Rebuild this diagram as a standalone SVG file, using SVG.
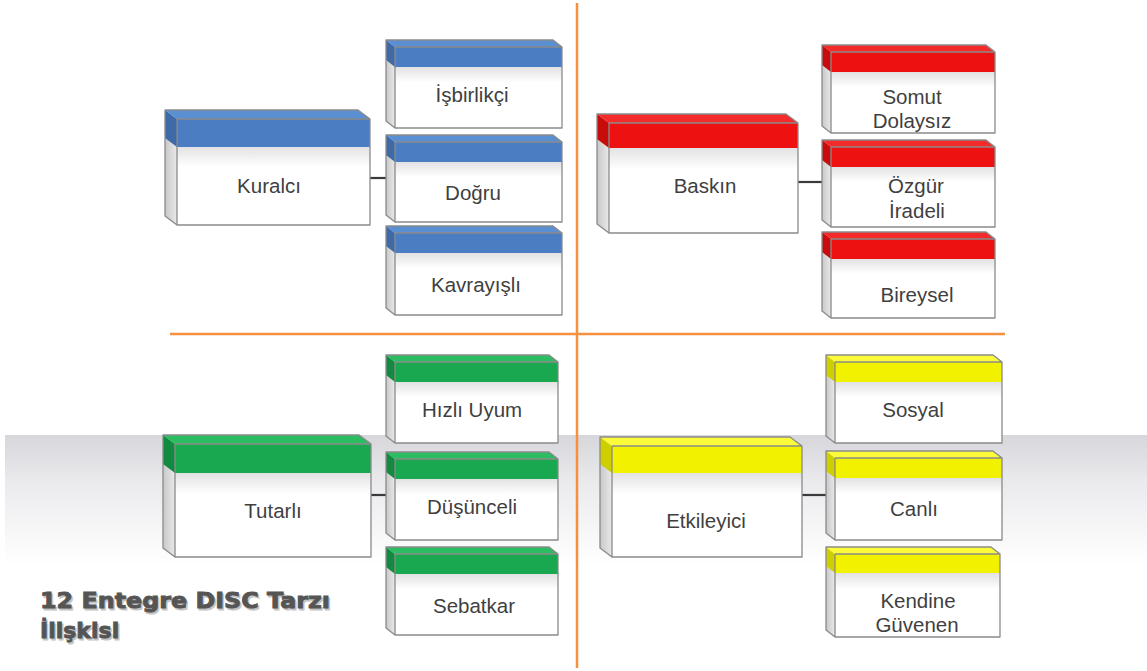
<svg xmlns="http://www.w3.org/2000/svg" width="1147" height="671" viewBox="0 0 1147 671">
<defs>
<linearGradient id="bg" x1="0" y1="0" x2="0" y2="1">
<stop offset="0" stop-color="#d6d6db"/>
<stop offset="0.35" stop-color="#eaeaed"/>
<stop offset="1" stop-color="#ffffff"/>
</linearGradient>
<linearGradient id="side" x1="0" y1="0" x2="1" y2="0">
<stop offset="0" stop-color="#c8c8c8"/>
<stop offset="1" stop-color="#e9e9e9"/>
</linearGradient>
<linearGradient id="front" x1="0" y1="0" x2="0" y2="1">
<stop offset="0" stop-color="#e2e2e4"/>
<stop offset="0.25" stop-color="#ffffff"/>
<stop offset="1" stop-color="#ffffff"/>
</linearGradient>
</defs>
<style>
.side{fill:url(#side)}
.front{fill:url(#front)}
.ol{fill:none;stroke:#8a8a8a;stroke-width:1.3;stroke-linejoin:round}
.b1{fill:#5a8fd2}.b2{fill:#4a7dc2}.b3{fill:#3f6aa8}
.r1{fill:#f52a2a}.r2{fill:#ee1111}.r3{fill:#c80c0c}
.g1{fill:#2cbc62}.g2{fill:#19a84f}.g3{fill:#128a40}
.y1{fill:#fbfb3a}.y2{fill:#f2f200}.y3{fill:#cfcf00}
.t{font-family:"Liberation Sans",Arial,sans-serif;font-size:20.5px;fill:#3f3f3f;text-anchor:middle}
.con{stroke:#3a3a3a;stroke-width:2.2;fill:none}
.axis{stroke:#f5913e;stroke-width:2.5;fill:none}
.title{font-family:"DejaVu Sans",Verdana,sans-serif;font-weight:bold;font-size:22px;fill:#555555;stroke:#555555;stroke-width:0.9}
.tsh{font-family:"DejaVu Sans",Verdana,sans-serif;font-weight:bold;font-size:22px;fill:#c4c4c4;stroke:#c4c4c4;stroke-width:0.9}
</style>
<rect x="0" y="0" width="1147" height="671" fill="#ffffff"/>
<rect x="5" y="435" width="1142" height="130" fill="url(#bg)"/>
<g id="axes">
<line class="axis" x1="577" y1="3" x2="577" y2="668"/>
<line class="axis" x1="170" y1="334" x2="1005" y2="334"/>
</g>
<g id="connectors">
<line class="con" x1="370" y1="178" x2="386" y2="178"/>
<line class="con" x1="798" y1="182" x2="822" y2="182"/>
<line class="con" x1="371" y1="495" x2="386" y2="495"/>
<line class="con" x1="802" y1="495" x2="826" y2="495"/>
</g>

<!-- Blue -->
<g id="kuralci">
<path class="side" d="M165,110 L177,119 L177,225 L165,216 Z"/>
<path class="b3" d="M165,110 L177,119 L177,147 L165,138 Z"/>
<path class="b1" d="M165,110 L358,110 L370,119 L177,119 Z"/>
<rect class="b2" x="177" y="119" width="193" height="28"/>
<rect class="front" x="177" y="147" width="193" height="78"/>
<path class="ol" d="M165,110 L358,110 L370,119 L370,225 L177,225 L165,216 Z M177,119 L370,119 M177,119 L177,225"/>
<text class="t" x="269" y="193">Kuralcı</text>
</g>
<g id="isbirlikci">
<path class="side" d="M386,40 L395,47 L395,128 L386,121 Z"/>
<path class="b3" d="M386,40 L395,47 L395,67 L386,60 Z"/>
<path class="b1" d="M386,40 L553,40 L562,47 L395,47 Z"/>
<rect class="b2" x="395" y="47" width="167" height="20"/>
<rect class="front" x="395" y="67" width="167" height="61"/>
<path class="ol" d="M386,40 L553,40 L562,47 L562,128 L395,128 L386,121 Z M395,47 L562,47 M395,47 L395,128"/>
<text class="t" x="472" y="102">İşbirlikçi</text>
</g>
<g id="dogru">
<path class="side" d="M386,135 L395,142 L395,222 L386,215 Z"/>
<path class="b3" d="M386,135 L395,142 L395,162 L386,155 Z"/>
<path class="b1" d="M386,135 L553,135 L562,142 L395,142 Z"/>
<rect class="b2" x="395" y="142" width="167" height="20"/>
<rect class="front" x="395" y="162" width="167" height="60"/>
<path class="ol" d="M386,135 L553,135 L562,142 L562,222 L395,222 L386,215 Z M395,142 L562,142 M395,142 L395,222"/>
<text class="t" x="473" y="200">Doğru</text>
</g>
<g id="kavrayisli">
<path class="side" d="M386,226 L395,233 L395,315 L386,308 Z"/>
<path class="b3" d="M386,226 L395,233 L395,253 L386,246 Z"/>
<path class="b1" d="M386,226 L553,226 L562,233 L395,233 Z"/>
<rect class="b2" x="395" y="233" width="167" height="20"/>
<rect class="front" x="395" y="253" width="167" height="62"/>
<path class="ol" d="M386,226 L553,226 L562,233 L562,315 L395,315 L386,308 Z M395,233 L562,233 M395,233 L395,315"/>
<text class="t" x="476" y="292">Kavrayışlı</text>
</g>

<!-- Red -->
<g id="baskin">
<path class="side" d="M597,114 L609,123 L609,233 L597,224 Z"/>
<path class="r3" d="M597,114 L609,123 L609,148 L597,139 Z"/>
<path class="r1" d="M597,114 L786,114 L798,123 L609,123 Z"/>
<rect class="r2" x="609" y="123" width="189" height="25"/>
<rect class="front" x="609" y="148" width="189" height="85"/>
<path class="ol" d="M597,114 L786,114 L798,123 L798,233 L609,233 L597,224 Z M609,123 L798,123 M609,123 L609,233"/>
<text class="t" x="705" y="193">Baskın</text>
</g>
<g id="somut">
<path class="side" d="M822,45 L831,52 L831,133 L822,126 Z"/>
<path class="r3" d="M822,45 L831,52 L831,72 L822,65 Z"/>
<path class="r1" d="M822,45 L986,45 L995,52 L831,52 Z"/>
<rect class="r2" x="831" y="52" width="164" height="20"/>
<rect class="front" x="831" y="72" width="164" height="61"/>
<path class="ol" d="M822,45 L986,45 L995,52 L995,133 L831,133 L822,126 Z M831,52 L995,52 M831,52 L831,133"/>
<text class="t" x="912" y="104">Somut</text>
<text class="t" x="912" y="128">Dolaysız</text>
</g>
<g id="ozgur">
<path class="side" d="M822,140 L831,147 L831,227 L822,220 Z"/>
<path class="r3" d="M822,140 L831,147 L831,167 L822,160 Z"/>
<path class="r1" d="M822,140 L986,140 L995,147 L831,147 Z"/>
<rect class="r2" x="831" y="147" width="164" height="20"/>
<rect class="front" x="831" y="167" width="164" height="60"/>
<path class="ol" d="M822,140 L986,140 L995,147 L995,227 L831,227 L822,220 Z M831,147 L995,147 M831,147 L831,227"/>
<text class="t" x="916" y="193">Özgür</text>
<text class="t" x="917" y="218">İradeli</text>
</g>
<g id="bireysel">
<path class="side" d="M822,232 L831,239 L831,318 L822,311 Z"/>
<path class="r3" d="M822,232 L831,239 L831,259 L822,252 Z"/>
<path class="r1" d="M822,232 L986,232 L995,239 L831,239 Z"/>
<rect class="r2" x="831" y="239" width="164" height="20"/>
<rect class="front" x="831" y="259" width="164" height="59"/>
<path class="ol" d="M822,232 L986,232 L995,239 L995,318 L831,318 L822,311 Z M831,239 L995,239 M831,239 L831,318"/>
<text class="t" x="917" y="302">Bireysel</text>
</g>

<!-- Green -->
<g id="tutarli">
<path class="side" d="M163,435 L175,444 L175,557 L163,548 Z"/>
<path class="g3" d="M163,435 L175,444 L175,473 L163,464 Z"/>
<path class="g1" d="M163,435 L359,435 L371,444 L175,444 Z"/>
<rect class="g2" x="175" y="444" width="196" height="29"/>
<rect class="front" x="175" y="473" width="196" height="84"/>
<path class="ol" d="M163,435 L359,435 L371,444 L371,557 L175,557 L163,548 Z M175,444 L371,444 M175,444 L175,557"/>
<text class="t" x="273" y="518">Tutarlı</text>
</g>
<g id="hizli">
<path class="side" d="M386,355 L395,362 L395,443 L386,436 Z"/>
<path class="g3" d="M386,355 L395,362 L395,382 L386,375 Z"/>
<path class="g1" d="M386,355 L549,355 L558,362 L395,362 Z"/>
<rect class="g2" x="395" y="362" width="163" height="20"/>
<rect class="front" x="395" y="382" width="163" height="61"/>
<path class="ol" d="M386,355 L549,355 L558,362 L558,443 L395,443 L386,436 Z M395,362 L558,362 M395,362 L395,443"/>
<text class="t" x="472" y="417">Hızlı Uyum</text>
</g>
<g id="dusunceli">
<path class="side" d="M386,452 L395,459 L395,540 L386,533 Z"/>
<path class="g3" d="M386,452 L395,459 L395,479 L386,472 Z"/>
<path class="g1" d="M386,452 L549,452 L558,459 L395,459 Z"/>
<rect class="g2" x="395" y="459" width="163" height="20"/>
<rect class="front" x="395" y="479" width="163" height="61"/>
<path class="ol" d="M386,452 L549,452 L558,459 L558,540 L395,540 L386,533 Z M395,459 L558,459 M395,459 L395,540"/>
<text class="t" x="472" y="514">Düşünceli</text>
</g>
<g id="sebatkar">
<path class="side" d="M386,547 L395,554 L395,635 L386,628 Z"/>
<path class="g3" d="M386,547 L395,554 L395,574 L386,567 Z"/>
<path class="g1" d="M386,547 L549,547 L558,554 L395,554 Z"/>
<rect class="g2" x="395" y="554" width="163" height="20"/>
<rect class="front" x="395" y="574" width="163" height="61"/>
<path class="ol" d="M386,547 L549,547 L558,554 L558,635 L395,635 L386,628 Z M395,554 L558,554 M395,554 L395,635"/>
<text class="t" x="474" y="613">Sebatkar</text>
</g>

<!-- Yellow -->
<g id="etkileyici">
<path class="side" d="M600,437 L612,446 L612,557 L600,548 Z"/>
<path class="y3" d="M600,437 L612,446 L612,473 L600,464 Z"/>
<path class="y1" d="M600,437 L790,437 L802,446 L612,446 Z"/>
<rect class="y2" x="612" y="446" width="190" height="27"/>
<rect class="front" x="612" y="473" width="190" height="84"/>
<path class="ol" d="M600,437 L790,437 L802,446 L802,557 L612,557 L600,548 Z M612,446 L802,446 M612,446 L612,557"/>
<text class="t" x="706" y="528">Etkileyici</text>
</g>
<g id="sosyal">
<path class="side" d="M826,355 L835,362 L835,443 L826,436 Z"/>
<path class="y3" d="M826,355 L835,362 L835,382 L826,375 Z"/>
<path class="y1" d="M826,355 L993,355 L1002,362 L835,362 Z"/>
<rect class="y2" x="835" y="362" width="167" height="20"/>
<rect class="front" x="835" y="382" width="167" height="61"/>
<path class="ol" d="M826,355 L993,355 L1002,362 L1002,443 L835,443 L826,436 Z M835,362 L1002,362 M835,362 L835,443"/>
<text class="t" x="913" y="417">Sosyal</text>
</g>
<g id="canli">
<path class="side" d="M826,451 L835,458 L835,540 L826,533 Z"/>
<path class="y3" d="M826,451 L835,458 L835,478 L826,471 Z"/>
<path class="y1" d="M826,451 L993,451 L1002,458 L835,458 Z"/>
<rect class="y2" x="835" y="458" width="167" height="20"/>
<rect class="front" x="835" y="478" width="167" height="62"/>
<path class="ol" d="M826,451 L993,451 L1002,458 L1002,540 L835,540 L826,533 Z M835,458 L1002,458 M835,458 L835,540"/>
<text class="t" x="914" y="516">Canlı</text>
</g>
<g id="kendine">
<path class="side" d="M826,547 L835,554 L835,637 L826,630 Z"/>
<path class="y3" d="M826,547 L835,554 L835,573 L826,566 Z"/>
<path class="y1" d="M826,547 L991,547 L1000,554 L835,554 Z"/>
<rect class="y2" x="835" y="554" width="165" height="19"/>
<rect class="front" x="835" y="573" width="165" height="64"/>
<path class="ol" d="M826,547 L991,547 L1000,554 L1000,637 L835,637 L826,630 Z M835,554 L1000,554 M835,554 L835,637"/>
<text class="t" x="918" y="608">Kendine</text>
<text class="t" x="917" y="632">Güvenen</text>
</g>

<g id="title">
<text class="tsh" x="41.5" y="609.5" textLength="290" lengthAdjust="spacingAndGlyphs">12 Entegre DISC Tarzı</text>
<text class="tsh" x="41.5" y="639.5">İlişkisi</text>
<text class="title" x="40" y="608" textLength="290" lengthAdjust="spacingAndGlyphs">12 Entegre DISC Tarzı</text>
<text class="title" x="40" y="638">İlişkisi</text>
</g>
</svg>
